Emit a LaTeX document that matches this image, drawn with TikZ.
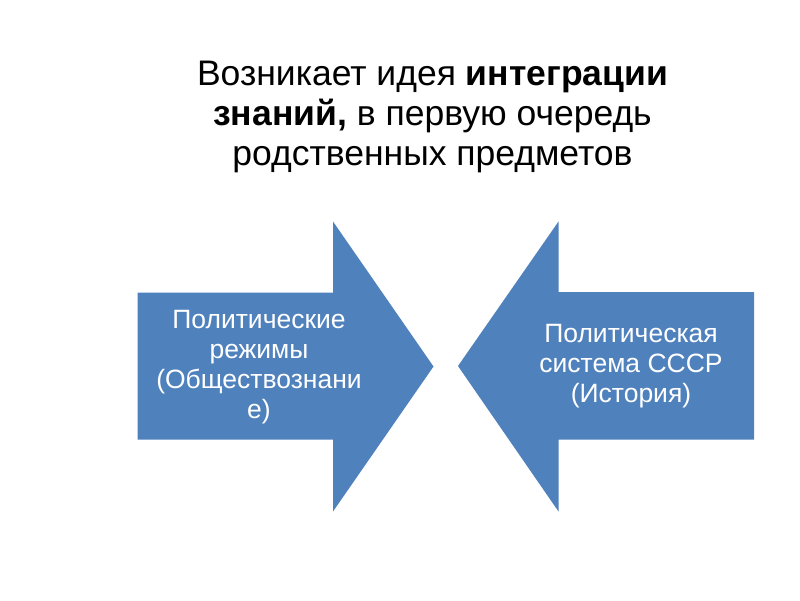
\documentclass[tikz,border=0pt]{standalone}
\usepackage{fontspec}
\setmainfont{Liberation Sans}
\definecolor{arrowblue}{HTML}{4F81BD}
\begin{document}
\begin{tikzpicture}[x=1pt,y=-1pt,
  arrowshape/.style={fill=arrowblue,draw=none},
  arrowtext/.style={text=white,align=center,font=\fontsize{26.5}{30}\selectfont,inner sep=0pt},
  titletext/.style={align=center,font=\fontsize{35.5}{40}\selectfont,inner sep=0pt}]
\useasboundingbox (0,0) rectangle (800,600);
\fill[white] (0,0) rectangle (800,600);
\node[titletext] (title) at (432.5,116.5) {Возникает идея \textbf{интеграции}\\\textbf{знаний,} в первую очередь\\родственных предметов};
\path[arrowshape] (137.5,292.5) -- (333,292.5) -- (333,221.5) -- (433.5,366.5) -- (333,511.5) -- (333,439.5) -- (137.5,439.5) -- cycle;
\path[arrowshape] (754,292) -- (558.5,292) -- (558.5,221.5) -- (458,366) -- (558.5,511.5) -- (558.5,439.5) -- (754,439.5) -- cycle;
\node[arrowtext] (left) at (259,367) {Политические\\режимы\\(Обществознани\\е)};
\node[arrowtext] (right) at (631,366) {Политическая\\система СССР\\(История)};
\end{tikzpicture}
\end{document}
